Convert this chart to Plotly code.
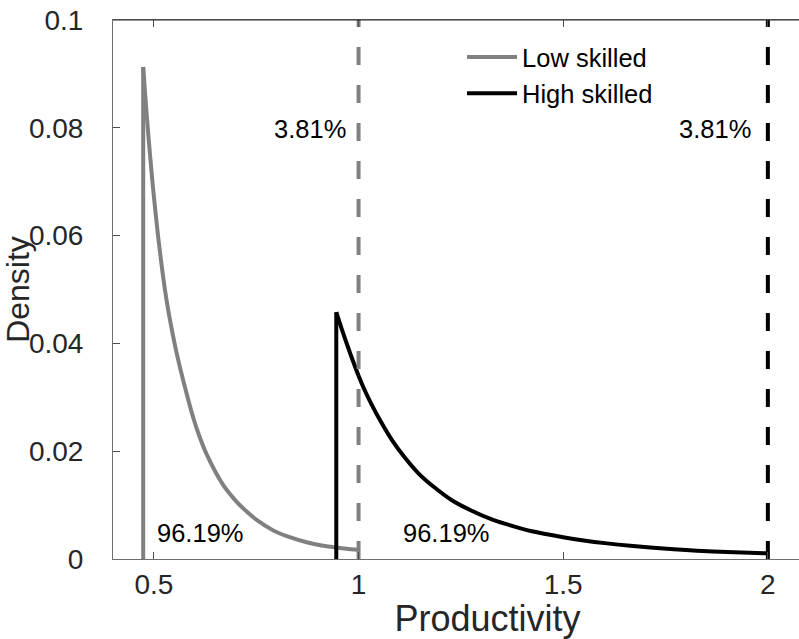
import plotly.graph_objects as go

# ---- data ----
low_x = [0.4738, 0.4738, 0.4780, 0.4822, 0.4862, 0.4902, 0.4960, 0.5024, 0.5100, 0.5188,
         0.5280, 0.5374, 0.5472, 0.5555, 0.5716, 0.5961, 0.6100, 0.6289, 0.6694, 0.7000,
         0.7266, 0.7500, 0.7917, 0.8300, 0.8733, 0.9100, 0.9384, 0.9700, 1.0000]
low_y = [0.0, 0.0913, 0.0868, 0.0826, 0.0788, 0.0752, 0.0703, 0.0654, 0.0600, 0.0545,
         0.0494, 0.0451, 0.0412, 0.0382, 0.0331, 0.0262, 0.0230, 0.0194, 0.0137, 0.0108,
         0.0088, 0.0073, 0.0053, 0.0041, 0.0031, 0.0025, 0.0022, 0.0019, 0.0017]

high_x = [0.9455, 0.9455, 0.9600, 0.9751, 0.9870, 0.9995, 1.0150, 1.0323, 1.0550, 1.0812,
          1.1100, 1.1462, 1.1850, 1.2279, 1.2750, 1.3257, 1.3750, 1.4235, 1.5000, 1.5500,
          1.6070, 1.6638, 1.7200, 1.7700, 1.8270, 1.9000, 2.0000]
high_y = [0.0, 0.0458, 0.0424, 0.0391, 0.0366, 0.0341, 0.0313, 0.0286, 0.0254, 0.0221,
          0.0191, 0.0159, 0.0133, 0.0109, 0.0090, 0.00735, 0.00615, 0.00515, 0.00405, 0.00345,
          0.00290, 0.00245, 0.00210, 0.00182, 0.00155, 0.00130, 0.00105]

cutoff_low = 1.0
cutoff_high = 2.0
cutoff_y = [0.0, 0.1]

series_names = ["Low skilled", "High skilled"]
label_top = "3.81%"
label_bottom = "96.19%"
label_top_x = [0.975, 1.964]
label_top_y = 0.0798
label_bottom_x = [0.5024, 1.1039]
label_bottom_y = 0.0048

x_ticks = [0.5, 1, 1.5, 2]
x_ticktext = ["0.5", "1", "1.5", "2"]
y_ticks = [0, 0.02, 0.04, 0.06, 0.08, 0.1]
y_ticktext = ["0", "0.02", "0.04", "0.06", "0.08", "0.1"]

GRAY = "#808080"
BLACK = "#000000"
FONT = "Liberation Sans, Arial, Helvetica, sans-serif"
TXT = "#262626"

fig = go.Figure()
for xs, ys, name, col in [(low_x, low_y, series_names[0], GRAY),
                          (high_x, high_y, series_names[1], BLACK)]:
    # vertical rise at the lower bound
    fig.add_trace(go.Scatter(x=xs[:2], y=ys[:2], mode="lines", name=name, legendgroup=name,
                             showlegend=False, line=dict(color=col, width=4)))
    # decaying density
    fig.add_trace(go.Scatter(x=xs[1:], y=ys[1:], mode="lines", name=name, legendgroup=name,
                             line=dict(color=col, width=4, shape="spline", smoothing=0.8)))

fig.add_trace(go.Scatter(x=[cutoff_low, cutoff_low], y=cutoff_y, mode="lines", showlegend=False,
                         line=dict(color=GRAY, width=4, dash="18px,20px")))
fig.add_trace(go.Scatter(x=[cutoff_high, cutoff_high], y=cutoff_y, mode="lines", showlegend=False,
                         line=dict(color=BLACK, width=4, dash="18px,20px")))

for xv in label_top_x:
    fig.add_annotation(x=xv, y=label_top_y, text=label_top, showarrow=False,
                       xanchor="right", yanchor="middle", font=dict(size=25.5, color="black", family=FONT))
for xv in label_bottom_x:
    fig.add_annotation(x=xv, y=label_bottom_y, text=label_bottom, showarrow=False,
                       xanchor="left", yanchor="middle", font=dict(size=25.5, color="black", family=FONT))

# plot area extends past the right edge of the 799px window, as in the reference
fig.update_layout(
    width=862, height=639,
    margin=dict(l=113, r=0, t=20, b=80),
    paper_bgcolor="white", plot_bgcolor="white",
    font=dict(family=FONT, size=28, color=TXT),
    showlegend=True,
    legend=dict(x=0.466, y=0.974, xanchor="left", yanchor="top", bgcolor="rgba(0,0,0,0)",
                font=dict(size=25.5, color="black", family=FONT), itemwidth=50,
                tracegroupgap=0),
)
fig.update_xaxes(range=[0.4, 2.23], tickvals=x_ticks, ticktext=x_ticktext,
                 showgrid=False, zeroline=False, showline=True, linecolor="#6e6e6e", linewidth=1,
                 mirror="ticks", ticks="inside", ticklen=7, tickcolor="#4d4d4d",
                 tickfont=dict(size=28, color=TXT),
                 title=dict(text="Productivity", font=dict(size=36, color=TXT), standoff=4))
fig.update_yaxes(range=[0, 0.1], tickvals=y_ticks, ticktext=y_ticktext,
                 showgrid=False, zeroline=False, showline=True, linecolor="#6e6e6e", linewidth=1,
                 ticks="inside", ticklen=7, tickcolor="#4d4d4d",
                 tickfont=dict(size=28, color=TXT), ticklabelstandoff=23,
                 title=dict(text="Density", font=dict(size=32, color=TXT), standoff=0))
# top border line of the box
fig.add_shape(type="line", xref="paper", yref="paper", x0=0, x1=1, y0=1, y1=1,
              line=dict(color="#262626", width=1))

fig.write_html("out.html", config={"displayModeBar": False},
               post_script="document.body.style.margin='0';document.body.style.overflow='hidden';")
